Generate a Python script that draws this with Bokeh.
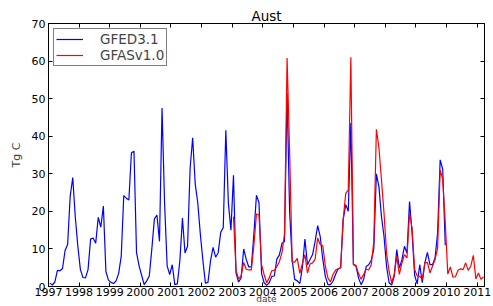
from bokeh.plotting import figure
from bokeh.models import Range1d, FixedTicker, LinearAxis, Legend, LegendItem
from bokeh.embed import file_html
from bokeh.resources import INLINE

# Monthly burned carbon, Tg C (mid-month values)
gfed_start_year = 1997
gfed = [
    0.9, 0.4, 1.2, 4.3, 4.2, 4.8, 9.6, 11.2, 24.0, 29.0, 18.5, 10.7,      # 1997
    4.5, 2.4, 2.3, 4.5, 12.6, 12.9, 11.5, 18.4, 15.8, 21.4, 4.0, 1.7,     # 1998
    1.1, 0.8, 1.5, 3.5, 8.0, 24.2, 23.5, 23.0, 35.6, 36.0, 9.0, 5.5,      # 1999
    3.0, 0.5, 1.5, 2.8, 10.0, 18.0, 19.0, 12.0, 47.5, 22.0, 5.5, 3.2,     # 2000
    5.8, 0.5, 0.7, 7.0, 18.2, 8.9, 10.7, 31.4, 39.6, 27.3, 22.3, 14.0,    # 2001
    7.0, 0.9, 1.1, 6.8, 10.4, 7.8, 9.0, 14.4, 15.7, 41.6, 22.2, 15.0,     # 2002
    29.6, 3.6, 1.2, 2.3, 10.0, 7.2, 5.2, 5.2, 14.0, 24.3, 22.3, 3.5,      # 2003
    1.0, 0.3, 1.0, 2.7, 2.8, 7.3, 8.4, 11.5, 12.0, 51.5, 20.0, 7.0,       # 2004
    1.9, 1.5, 0.8, 5.0, 12.6, 5.8, 7.2, 8.5, 12.0, 16.2, 13.3, 7.2,       # 2005
    2.7, 0.5, 0.5, 1.4, 3.2, 4.7, 5.0, 17.8, 21.8, 20.0, 43.5, 5.8,       # 2006
    5.5, 2.3, 0.5, 1.8, 5.3, 5.8, 7.0, 10.0, 30.0, 26.6, 18.6, 13.3,      # 2007
    5.3, 1.0, 0.4, 2.7, 9.8, 4.9, 7.1, 10.7, 8.9, 22.6, 14.2, 3.0,        # 2008
    0.7, 5.8, 1.0, 6.3, 9.1, 5.8, 5.8, 7.6, 14.2, 33.7, 31.2, 11.0,       # 2009
]

gfas_start_year = 2003
gfas = [
    18.6, 4.3, 2.0, 2.8, 6.4, 4.6, 4.4, 4.4, 11.0, 19.3, 19.1, 5.8,       # 2003
    3.2, 1.0, 2.3, 4.2, 4.3, 5.3, 6.6, 9.0, 14.0, 60.8, 36.0, 6.5,        # 2004
    6.5, 7.5, 3.5, 6.1, 8.5, 3.6, 6.0, 6.3, 7.3, 12.9, 11.1, 10.9,        # 2005
    5.4, 2.3, 1.2, 3.2, 4.3, 4.7, 5.0, 17.9, 24.8, 25.7, 61.0, 6.0,       # 2006
    5.6, 3.5, 1.9, 3.2, 4.6, 4.4, 5.8, 12.0, 41.8, 37.0, 28.4, 19.5,      # 2007
    8.9, 4.0, 1.0, 3.2, 8.0, 3.2, 6.2, 8.5, 7.6, 19.5, 15.5, 4.5,         # 2008
    2.8, 2.7, 1.9, 6.3, 6.4, 3.6, 5.4, 7.2, 10.2, 31.0, 28.5, 17.0,       # 2009
    3.3, 5.2, 2.5, 2.6, 4.3, 4.7, 4.5, 6.3, 4.3, 5.4, 8.3, 2.0,           # 2010
    3.6, 1.9, 2.6,                                                        # 2011
]

x_ticks = list(range(1997, 2012))
y_ticks = [0, 10, 20, 30, 40, 50, 60, 70]
series_names = ["GFED3.1", "GFASv1.0"]

gfed_x = [gfed_start_year + (i + 0.5) / 12 for i in range(len(gfed))]
gfas_x = [gfas_start_year + (i + 0.5) / 12 for i in range(len(gfas))]

FONT = "DejaVu Sans"

p = figure(width=493, height=306,
           x_range=Range1d(1997, 2011.24), y_range=Range1d(0, 70),
           output_backend="svg", toolbar_location=None, title="Aust",
           min_border_left=48, min_border_right=9,
           min_border_top=23, min_border_bottom=19)

p.title.align = "center"
p.title.text_font = FONT
p.title.text_font_size = "13.5px"
p.title.text_font_style = "normal"
p.title.text_color = "black"
p.title.standoff = 0

p.grid.visible = False
p.outline_line_color = "black"
p.outline_line_width = 1
p.background_fill_color = "white"
p.border_fill_color = "white"


def style_axis(ax, show_labels=True):
    ax.major_tick_in = 4
    ax.major_tick_out = 0
    ax.minor_tick_line_color = None
    ax.axis_line_color = "black"
    ax.major_tick_line_color = "black"
    ax.major_label_text_font = FONT
    ax.major_label_text_font_size = "11px"
    ax.major_label_text_color = "black" if show_labels else None
    if not show_labels:
        ax.major_label_standoff = 0


p.xaxis.ticker = FixedTicker(ticks=x_ticks)
p.yaxis.ticker = FixedTicker(ticks=y_ticks)
style_axis(p.xaxis[0])
style_axis(p.yaxis[0])
p.xaxis.major_label_standoff = 1
p.xaxis.axis_label = "date"
p.xaxis.axis_label_text_font = FONT
p.xaxis.axis_label_text_font_size = "9px"
p.xaxis.axis_label_text_font_style = "normal"
p.xaxis.axis_label_standoff = -5
p.yaxis.major_label_standoff = 3
p.yaxis.axis_label = "Tg C"
p.yaxis.axis_label_text_font = FONT
p.yaxis.axis_label_text_font_size = "11px"
p.yaxis.axis_label_text_font_style = "normal"
p.yaxis.axis_label_standoff = 6

top_axis = LinearAxis(ticker=FixedTicker(ticks=x_ticks))
style_axis(top_axis, show_labels=False)
p.add_layout(top_axis, "above")
right_axis = LinearAxis(ticker=FixedTicker(ticks=y_ticks))
style_axis(right_axis, show_labels=False)
p.add_layout(right_axis, "right")

r1 = p.line(gfed_x, gfed, line_color="#0000ff", line_width=1.2)
r2 = p.line(gfas_x, gfas, line_color="#ff0000", line_width=1.2)

legend = Legend(items=[LegendItem(label=series_names[0], renderers=[r1]),
                       LegendItem(label=series_names[1], renderers=[r2])],
                location="top_left", margin=5, padding=2, spacing=-3,
                glyph_width=27, glyph_height=12, label_height=12,
                label_standoff=17,
                label_text_font=FONT, label_text_font_size="13.5px",
                label_text_line_height=0.8,
                border_line_color="black", border_line_width=1,
                background_fill_color="white", background_fill_alpha=1)
p.add_layout(legend)

open("out.html", "w").write(file_html(p, INLINE))
